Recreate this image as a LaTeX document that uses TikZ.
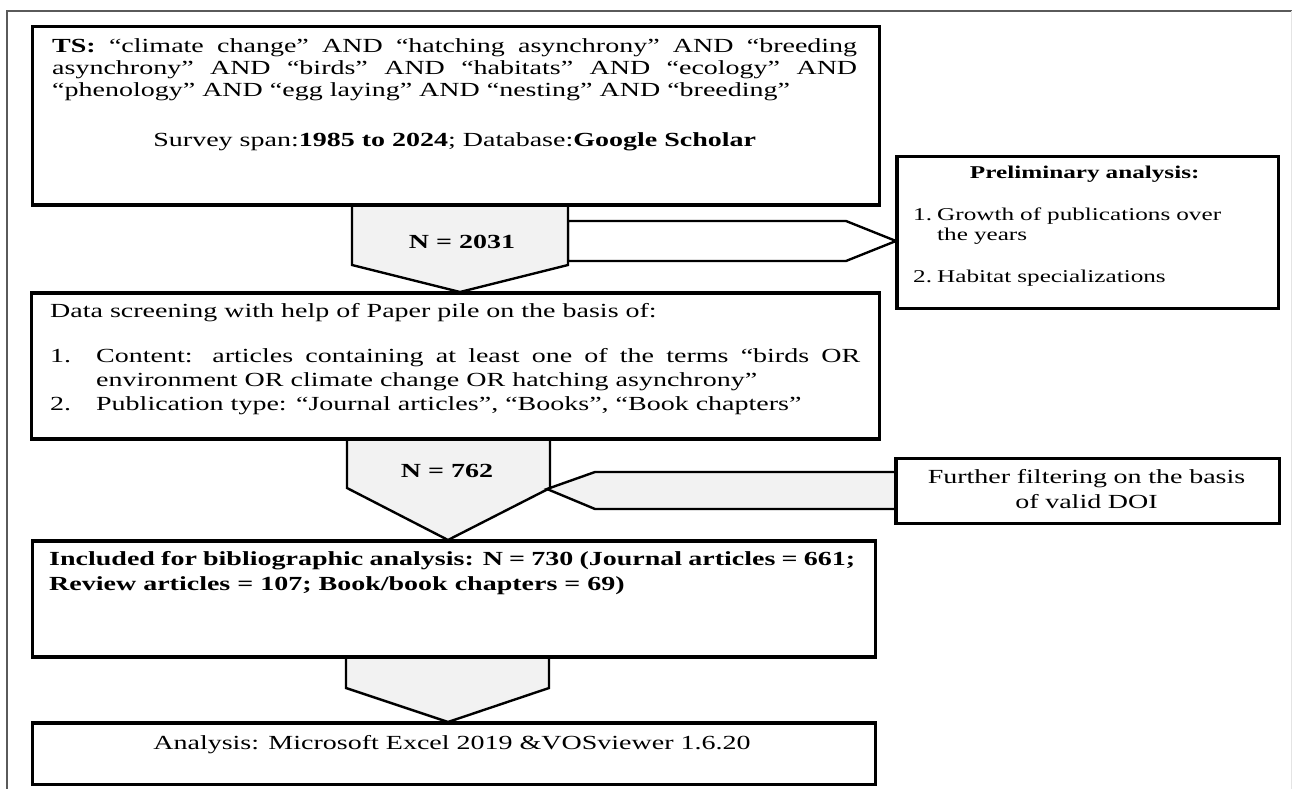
\documentclass[tikz,border=0pt]{standalone}
\usepackage{fontspec}
\setmainfont{Liberation Serif}[FakeStretch=1.4]
\usetikzlibrary{calc}
\setlength{\parindent}{0pt}
\definecolor{arrowgray}{HTML}{F2F2F2}
\definecolor{framegray}{HTML}{5A5A5A}
\definecolor{framelight}{HTML}{E4E4E4}
\tikzset{
  boxnode/.style={draw=black, line width=2.6pt, fill=white, rectangle, anchor=north west, inner sep=0pt},
  blockarrow/.style={draw=black, line width=2.4pt, fill=arrowgray, line join=miter},
  whitearrow/.style={draw=black, line width=2.4pt, fill=white, line join=miter},
  edgeline/.style={draw=black, line width=2.6pt},
  txt/.style={inner sep=0pt, anchor=north west, align=justify, font=\fontsize{20}{22}\selectfont},
  smalltxt/.style={inner sep=0pt, anchor=north west, align=left, font=\fontsize{18}{20}\selectfont},
  numtxt/.style={inner sep=0pt, anchor=base, font=\fontsize{20}{22}\selectfont\bfseries},
}
\begin{document}
\begin{tikzpicture}[x=1pt,y=-1pt]
\useasboundingbox (0,0) rectangle (1292,789);
% page frame
\draw[framegray, line width=1.5pt] (7,789) -- (7,11) -- (1292,11);
\draw[framelight, line width=1pt] (1291,11) -- (1291,789);

% boxes
\node[boxnode, minimum width=847pt, minimum height=178pt] (ts) at (31,25) {};
\node[boxnode, minimum width=381pt, minimum height=152pt] (prelim) at (896,155) {};
\node[boxnode, minimum width=848pt, minimum height=145pt] (scr) at (30,292) {};
\node[boxnode, minimum width=383pt, minimum height=65pt] (filt) at (895,457) {};
\node[boxnode, minimum width=843pt, minimum height=115pt] (incl) at (31,540) {};
\node[boxnode, minimum width=843pt, minimum height=61pt] (anal) at (31,722) {};

% block arrows
\coordinate (ptip) at (896,241);
\draw[whitearrow] (568,221) -- (846,221) -- (ptip -| prelim.west) -- (846,261) -- (568,261) -- cycle;
\draw[blockarrow] (352,0 |- ts.south) -- (352,265) -- (460,0 |- scr.north) -- (568,265) -- (568,0 |- ts.south) -- cycle;

\draw[blockarrow] (347,0 |- scr.south) -- (347,488) -- (448,0 |- incl.north) -- (550,488) -- (550,0 |- scr.south) -- cycle;
\coordinate (ftop) at (895,472);
\coordinate (fbot) at (895,509);
\draw[blockarrow] (ftop -| filt.west) -- (595,472) -- (547,489) -- (595,509) -- (fbot -| filt.west);

\draw[blockarrow] (346,0 |- incl.south) -- (346,688) -- (448,0 |- anal.north) -- (549,688) -- (549,0 |- incl.south) -- cycle;

% redraw box borders over arrow ends
\draw[edgeline] (ts.south west) -- (ts.south east);
\draw[edgeline] (scr.north west) -- (scr.north east);
\draw[edgeline] (scr.south west) -- (scr.south east);
\draw[edgeline] (incl.north west) -- (incl.north east);
\draw[edgeline] (incl.south west) -- (incl.south east);
\draw[edgeline] (anal.north west) -- (anal.north east);
\draw[edgeline] (prelim.north west) -- (prelim.south west);
\draw[edgeline] (filt.north west) -- (filt.south west);

% texts
\node[txt, text width=805pt] (tstext) at (52,36.6) {\strut\textbf{TS:} “climate change” AND “hatching asynchrony” AND “breeding\linebreak asynchrony” AND “birds” AND “habitats” AND “ecology” AND\linebreak “phenology” AND “egg laying” AND “nesting” AND “breeding”\par\vspace{28pt}{\centering Survey span:\textbf{1985 to 2024}; Database:\textbf{Google Scholar}\par}};

\node[numtxt] (n1) at (462,248) {N = 2031};

\node[smalltxt, text width=343pt] (prelimtext) at (913,164) {\strut{\centering\textbf{Preliminary analysis:}\par}\vspace{22pt}\hangindent=24pt\hangafter=1\noindent\makebox[24pt][l]{1.}Growth of publications over\newline the years\par\vspace{22pt}\hangindent=24pt\hangafter=1\noindent\makebox[24pt][l]{2.}Habitat specializations\par};

\node[txt, text width=810pt, font=\fontsize{20}{24}\selectfont] (scrtext) at (50,300.2) {\strut Data screening with help of Paper pile on the basis of:\par\vspace{21pt}\hangindent=46pt\hangafter=1\noindent\makebox[46pt][l]{1.}Content: articles containing at least one of the terms “birds OR\linebreak environment OR climate change OR hatching asynchrony”\par\hangindent=46pt\hangafter=1\noindent\makebox[46pt][l]{2.}Publication type: “Journal articles”, “Books”, “Book chapters”\par};

\node[numtxt] (n2) at (447,477) {N = 762};

\node[txt, text width=370pt, align=center, anchor=north, font=\fontsize{20}{25}\selectfont] (filttext) at (1086.5,465.5) {\strut Further filtering on the basis\\ of valid DOI};

\node[txt, text width=806pt, font=\fontsize{20}{25}\selectfont\bfseries] (incltext) at (49,547.5) {\strut Included for bibliographic analysis: N = 730 (Journal articles = 661;\linebreak Review articles = 107; Book/book chapters = 69)\par};

\node[inner sep=0pt, anchor=base, font=\fontsize{20}{22}\selectfont] (analtext) at (452,749) {Analysis: Microsoft Excel 2019 \&VOSviewer 1.6.20};
\end{tikzpicture}
\end{document}
